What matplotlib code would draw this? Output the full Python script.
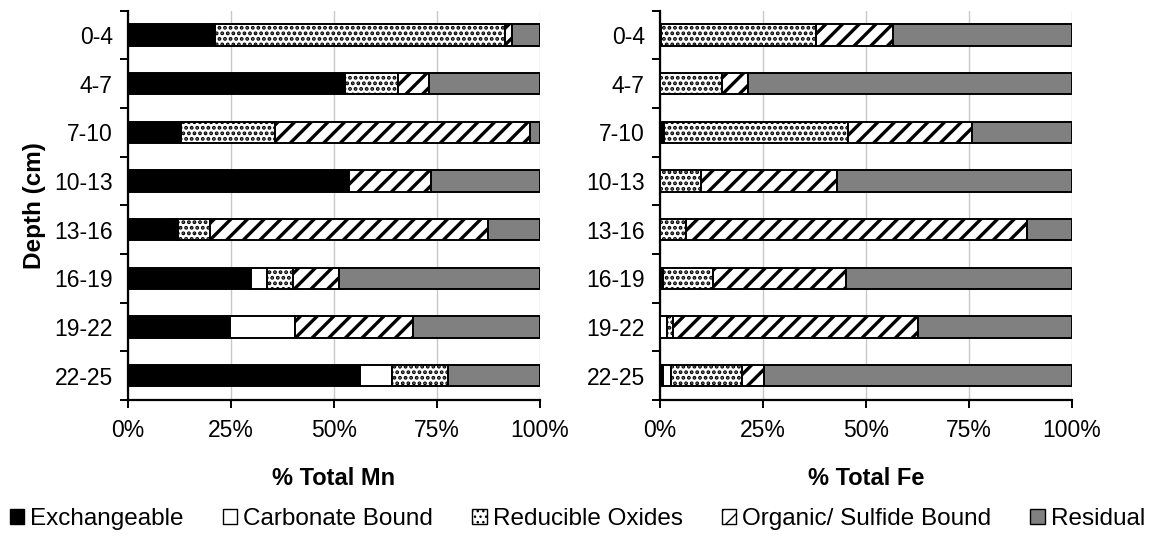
import numpy as np
import matplotlib
matplotlib.use("Agg")
import matplotlib.pyplot as plt
from matplotlib.patches import Patch
from matplotlib.ticker import FixedLocator, PercentFormatter

plt.rcParams['font.family'] = ['Liberation Sans', 'DejaVu Sans']

depths = ["0-4", "4-7", "7-10", "10-13", "13-16", "16-19", "19-22", "22-25"]
fractions = ["Exchangeable", "Carbonate Bound", "Reducible Oxides",
             "Organic/ Sulfide Bound", "Residual"]

# percent of total, per depth (top to bottom)
mn_exch = [21.1, 52.7, 12.9, 53.6, 11.7, 29.8, 24.8, 56.3]
mn_carb = [0.0, 0.0, 0.0, 0.0, 0.5, 3.9, 15.7, 7.9]
mn_red = [70.4, 12.8, 22.8, 0.0, 7.8, 6.4, 0.0, 13.5]
mn_org = [1.8, 7.5, 62.0, 19.9, 67.3, 11.1, 28.6, 0.0]
mn_res = [6.7, 27.0, 2.3, 26.5, 12.7, 48.8, 30.9, 22.3]

fe_exch = [0.3, 0.0, 1.0, 0.0, 0.0, 0.3, 0.0, 0.8]
fe_carb = [0.0, 0.0, 0.0, 0.0, 0.0, 0.5, 1.6, 1.8]
fe_red = [37.5, 15.0, 44.7, 10.0, 6.3, 12.0, 1.5, 17.4]
fe_org = [18.7, 6.4, 30.1, 32.9, 82.7, 32.3, 59.6, 5.2]
fe_res = [43.5, 78.6, 24.2, 57.1, 11.0, 54.9, 37.3, 74.8]

styles = [
    dict(color="black", hatch=None, hlw=1.0),
    dict(color="white", hatch=None, hlw=1.0),
    dict(color="white", hatch="...", hlw=1.9),
    dict(color="white", hatch="//", hlw=2.4),
    dict(color="#808080", hatch=None, hlw=1.0),
]

def draw_panel(ax, series, xlabel, show_ylabel):
    y = np.arange(len(depths))
    left = np.zeros(len(depths))
    for vals, st in zip(series, styles):
        vals = np.array(vals)
        plt.rcParams['hatch.linewidth'] = st["hlw"]
        ax.barh(y, vals, left=left, height=0.44, color=st["color"],
                hatch=st["hatch"], edgecolor="black", linewidth=1.4, zorder=3)
        left += vals
    ax.set_ylim(len(depths) - 0.5, -0.5)
    ax.set_xlim(0, 100)
    # ticks sit between categories, labels sit on the bars
    ax.yaxis.set_major_locator(FixedLocator(np.arange(-0.5, len(depths), 1)))
    ax.yaxis.set_minor_locator(FixedLocator(y))
    ax.set_yticklabels([], minor=False)
    ax.set_yticklabels(depths, minor=True, fontsize=16.5)
    ax.tick_params(axis="y", which="minor", length=0, pad=11)
    ax.tick_params(axis="y", which="major", length=6, width=1.4)
    ax.set_xticks([0, 25, 50, 75, 100])
    ax.xaxis.set_major_formatter(PercentFormatter(decimals=0))
    ax.tick_params(axis="x", labelsize=16.5, length=6, width=1.4, pad=8)
    ax.grid(axis="x", color="#c8c8c8", linewidth=1.0, zorder=0)
    ax.spines["top"].set_visible(False)
    ax.spines["right"].set_visible(False)
    ax.spines["left"].set_linewidth(1.6)
    ax.spines["bottom"].set_linewidth(1.6)
    ax.set_xlabel(xlabel, fontsize=17, fontweight="bold", labelpad=18)
    if show_ylabel:
        ax.set_ylabel("Depth (cm)", fontsize=17.5, fontweight="bold", labelpad=6)

fig = plt.figure(figsize=(11.55, 5.35), dpi=100)
ax1 = fig.add_axes([0.1108, 0.2523, 0.3567, 0.7279])
ax2 = fig.add_axes([0.5714, 0.2523, 0.3567, 0.7279])

draw_panel(ax1, [mn_exch, mn_carb, mn_red, mn_org, mn_res], "% Total Mn", True)
draw_panel(ax2, [fe_exch, fe_carb, fe_red, fe_org, fe_res], "% Total Fe", False)

handles = []
for st, name in zip(styles, fractions):
    plt.rcParams['hatch.linewidth'] = min(st["hlw"], 1.5)
    handles.append(Patch(facecolor=st["color"], hatch=st["hatch"], edgecolor="black",
                         linewidth=1.0, label=name))
fig.legend(handles=handles, loc="center", bbox_to_anchor=(0.5, 0.03), ncol=5,
           frameon=False, fontsize=17.5, handlelength=0.6, handleheight=0.6,
           handletextpad=0.25, columnspacing=1.6)

fig.savefig("out.png", dpi=100)
